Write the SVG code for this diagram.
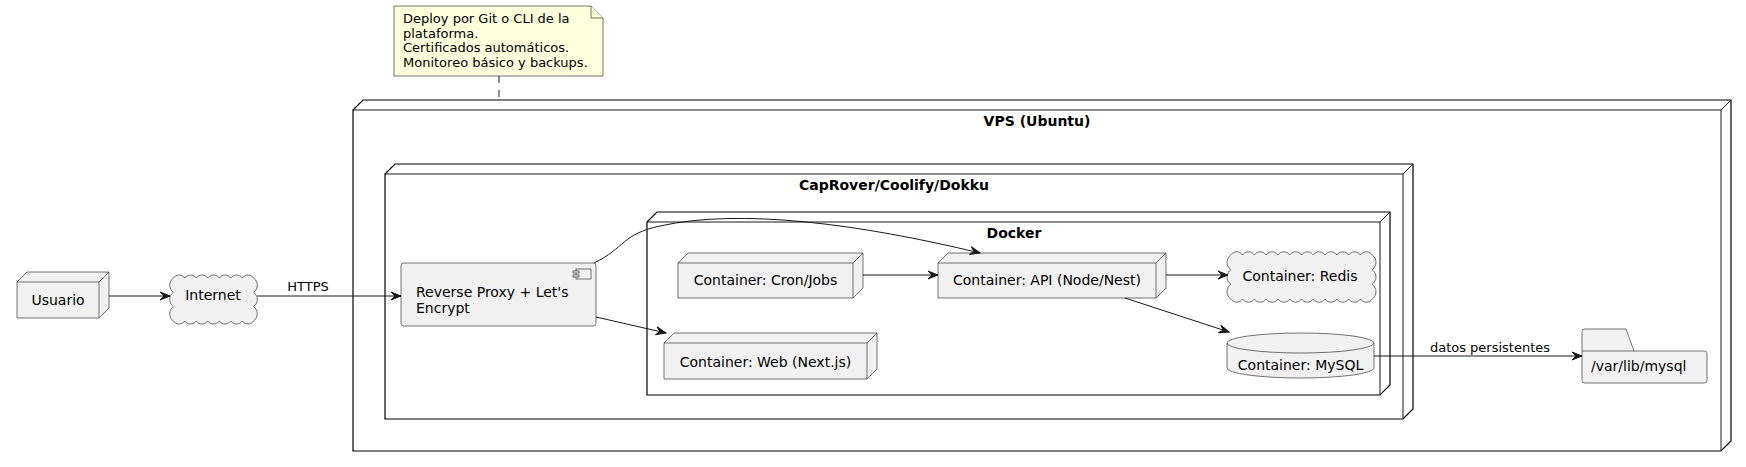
<svg xmlns="http://www.w3.org/2000/svg" width="1746" height="467" viewBox="0 0 1746 467">
<style>
.frame{fill:#FFFFFF;stroke:#000000;stroke-width:1.2}
.el{fill:#F1F1F1;stroke:#181818;stroke-width:0.6}
.ln{fill:none;stroke:#181818;stroke-width:1}
.t{font-family:"DejaVu Sans",sans-serif;font-size:14px;fill:#000000}
.tb{font-family:"DejaVu Sans",sans-serif;font-size:14px;font-weight:bold;fill:#000000}
.tl{font-family:"DejaVu Sans",sans-serif;font-size:13px;fill:#000000}
.note{fill:#FEFFDD;stroke:#181818;stroke-width:0.6}
</style>
<defs>
<marker id="ah" viewBox="-11 -5 12 10" refX="0" refY="0" markerWidth="12" markerHeight="10" markerUnits="userSpaceOnUse" orient="auto">
<path d="M0,0 L-10,-4 L-6,0 L-10,4 Z" fill="#181818" stroke="#181818" stroke-width="1"/>
</marker>
</defs>
<rect width="1746" height="467" fill="#FFFFFF"/>

<g id="vps">
<path class="frame" d="M353,110 L363,100 L1731,100 L1731,441 L1721,451 L353,451 Z"/>
<path class="ln" d="M353,110 L1721,110 L1731,100 M1721,110 L1721,451" stroke="#000" stroke-width="1.2"/>
<text class="tb" x="1037" y="126" text-anchor="middle">VPS (Ubuntu)</text>
</g>

<g id="caprover">
<path class="frame" d="M385,174 L395,164 L1413,164 L1413,409 L1403,419 L385,419 Z"/>
<path class="ln" d="M385,174 L1403,174 L1413,164 M1403,174 L1403,419" stroke="#000" stroke-width="1.2"/>
<text class="tb" x="894" y="190" text-anchor="middle">CapRover/Coolify/Dokku</text>
</g>

<g id="docker">
<path class="frame" d="M647,222 L657,212 L1390,212 L1390,385 L1380,395 L647,395 Z"/>
<path class="ln" d="M647,222 L1380,222 L1390,212 M1380,222 L1380,395" stroke="#000" stroke-width="1.2"/>
<text class="tb" x="1014" y="238" text-anchor="middle">Docker</text>
</g>

<g id="note">
<path class="note" d="M394,6 L591,6 L603,18 L603,76 L394,76 Z"/>
<path class="note" d="M591,6 L591,18 L603,18"/>
<text class="tl" x="403" y="22.5">Deploy por Git o CLI de la</text>
<text class="tl" x="403" y="37.5">plataforma.</text>
<text class="tl" x="403" y="52">Certificados automáticos.</text>
<text class="tl" x="403" y="67">Monitoreo básico y backups.</text>
</g>

<g id="usuario">
<path class="el" d="M17,282 L27,272 L109,272 L109,308 L99,318 L17,318 Z"/>
<path class="el" style="fill:none" d="M17,282 L99,282 L109,272 M99,282 L99,318"/>
<text class="t" x="58" y="305" text-anchor="middle">Usuario</text>
</g>

<g id="internet">
<path class="el" d="M173.3,278 a7,7 0 0 1 11.49,0 a7,7 0 0 1 11.49,0 a7,7 0 0 1 11.49,0 a7,7 0 0 1 11.49,0 a7,7 0 0 1 11.49,0 a7,7 0 0 1 11.49,0 a7,7 0 0 1 11.46,0 a9,9 0 0 1 0,14.33 a9,9 0 0 1 0,14.33 a9,9 0 0 1 0,14.34 a7,7 0 0 1 -11.46,0 a7,7 0 0 1 -11.49,0 a7,7 0 0 1 -11.49,0 a7,7 0 0 1 -11.49,0 a7,7 0 0 1 -11.49,0 a7,7 0 0 1 -11.49,0 a7,7 0 0 1 -11.49,0 a9,9 0 0 1 0,-14.34 a9,9 0 0 1 0,-14.33 a9,9 0 0 1 0,-14.33 Z"/>
<text class="t" x="213" y="300" text-anchor="middle">Internet</text>
</g>

<g id="proxy">
<rect class="el" x="401" y="263" width="195" height="63" rx="2.5"/>
<rect class="el" x="576" y="269" width="15" height="10"/>
<rect class="el" x="573" y="271" width="6" height="2"/>
<rect class="el" x="573" y="275" width="6" height="2"/>
<text class="t" x="416" y="297">Reverse Proxy + Let's</text>
<text class="t" x="416" y="313">Encrypt</text>
</g>

<g id="cron">
<path class="el" d="M678,263 L688,253 L863,253 L863,288 L853,298 L678,298 Z"/>
<path class="el" style="fill:none" d="M678,263 L853,263 L863,253 M853,263 L853,298"/>
<text class="t" x="765.5" y="285" text-anchor="middle">Container: Cron/Jobs</text>
</g>

<g id="api">
<path class="el" d="M938,263 L948,253 L1166,253 L1166,288 L1156,298 L938,298 Z"/>
<path class="el" style="fill:none" d="M938,263 L1156,263 L1166,253 M1156,263 L1156,298"/>
<text class="t" x="1047" y="285" text-anchor="middle">Container: API (Node/Nest)</text>
</g>

<g id="web">
<path class="el" d="M664,343 L674,333 L877,333 L877,369 L867,379 L664,379 Z"/>
<path class="el" style="fill:none" d="M664,343 L867,343 L877,333 M867,343 L867,379"/>
<text class="t" x="765.5" y="367" text-anchor="middle">Container: Web (Next.js)</text>
</g>

<g id="redis">
<path class="el" d="M1230.8,255 a7,7 0 0 1 11.78,0 a7,7 0 0 1 11.78,0 a7,7 0 0 1 11.78,0 a7,7 0 0 1 11.78,0 a7,7 0 0 1 11.78,0 a7,7 0 0 1 11.78,0 a7,7 0 0 1 11.78,0 a7,7 0 0 1 11.78,0 a7,7 0 0 1 11.78,0 a7,7 0 0 1 11.78,0 a7,7 0 0 1 11.78,0 a7,7 0 0 1 11.82,0 a9,9 0 0 1 0,14.67 a9,9 0 0 1 0,14.67 a9,9 0 0 1 0,14.66 a7,7 0 0 1 -11.82,0 a7,7 0 0 1 -11.78,0 a7,7 0 0 1 -11.78,0 a7,7 0 0 1 -11.78,0 a7,7 0 0 1 -11.78,0 a7,7 0 0 1 -11.78,0 a7,7 0 0 1 -11.78,0 a7,7 0 0 1 -11.78,0 a7,7 0 0 1 -11.78,0 a7,7 0 0 1 -11.78,0 a7,7 0 0 1 -11.78,0 a7,7 0 0 1 -11.78,0 a9,9 0 0 1 0,-14.66 a9,9 0 0 1 0,-14.67 a9,9 0 0 1 0,-14.67 Z"/>
<text class="t" x="1300" y="281" text-anchor="middle">Container: Redis</text>
</g>

<g id="mysql">
<path class="el" d="M1227,343 L1227,368 A73.5,10 0 0 0 1374,368 L1374,343 A73.5,10 0 0 0 1227,343 Z"/>
<path class="el" style="fill:none" d="M1227,343 A73.5,10 0 0 0 1374,343"/>
<text class="t" x="1300.5" y="370" text-anchor="middle">Container: MySQL</text>
</g>

<g id="varlibmysql">
<path class="el" d="M1584.5,329 L1626,329 L1634,351 L1704.5,351 Q1707,351 1707,353.5 L1707,380.5 Q1707,383 1704.5,383 L1584.5,383 Q1582,383 1582,380.5 L1582,331.5 Q1582,329 1584.5,329 Z"/>
<path class="el" style="fill:none" d="M1582,351 L1634,351"/>
<text class="t" x="1591" y="371">/var/lib/mysql</text>
</g>

<g id="connectors">
<path class="ln" d="M499,76 L499,100" stroke-dasharray="7,7"/>
<path class="ln" d="M109,296 L170,296" marker-end="url(#ah)"/>
<path class="ln" d="M257,296 L401,296" marker-end="url(#ah)"/>
<text class="tl" x="308" y="291" text-anchor="middle">HTTPS</text>
<path class="ln" d="M594,263 C625,248 622,234 660,226 C740,208 860,224 980,253" marker-end="url(#ah)"/>
<path class="ln" d="M596,317 L666,333" marker-end="url(#ah)"/>
<path class="ln" d="M863,275 L938,275" marker-end="url(#ah)"/>
<path class="ln" d="M1166,275 L1228,275" marker-end="url(#ah)"/>
<path class="ln" d="M1125,298 L1229,332" marker-end="url(#ah)"/>
<path class="ln" d="M1374,356 L1582,356" marker-end="url(#ah)"/>
<text class="tl" x="1490" y="352" text-anchor="middle">datos persistentes</text>
</g>
</svg>
